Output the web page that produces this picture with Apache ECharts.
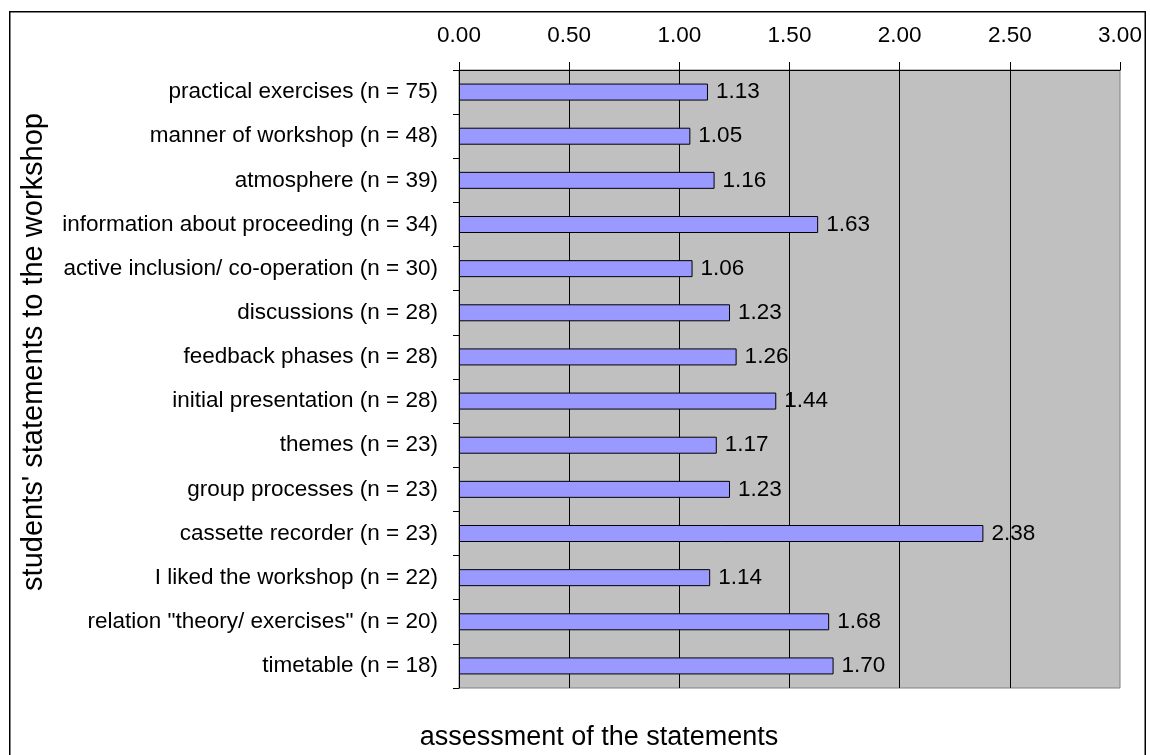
<!DOCTYPE html>
<html>
<head>
<meta charset="utf-8">
<title>Assessment of the statements</title>
<script src="https://cdn.jsdelivr.net/npm/echarts@6/dist/echarts.min.js"></script>
<style>
  html, body { margin: 0; padding: 0; background: #ffffff; }
  #chart { width: 1150px; height: 755px; }
</style>
</head>
<body>
<div id="chart"></div>
<script>
// Statements named by the students, with the number of mentions
const categories = [
  'practical exercises (n = 75)',
  'manner of workshop (n = 48)',
  'atmosphere (n = 39)',
  'information about proceeding (n = 34)',
  'active inclusion/ co-operation (n = 30)',
  'discussions (n = 28)',
  'feedback phases (n = 28)',
  'initial presentation (n = 28)',
  'themes (n = 23)',
  'group processes (n = 23)',
  'cassette recorder (n = 23)',
  'I liked the workshop (n = 22)',
  'relation "theory/ exercises" (n = 20)',
  'timetable (n = 18)'
];

// Mean assessment of each statement
const assessment = [1.13, 1.05, 1.16, 1.63, 1.06, 1.23, 1.26, 1.44, 1.17, 1.23, 2.38, 1.14, 1.68, 1.70];

// Value axis range and step
const axisMin = 0;
const axisMax = 3;
const axisStep = 0.5;

const xTitle = 'assessment of the statements';
const yTitle = "students' statements to the workshop";

const FONT = "'Liberation Sans', Arial, Helvetica, sans-serif";
const LABEL_SIZE = 22.5;

const chart = echarts.init(document.getElementById('chart'), null, { renderer: 'canvas' });

chart.setOption({
  animation: false,
  backgroundColor: '#ffffff',
  textStyle: { fontFamily: FONT },
  grid: {
    left: 459,
    top: 70,
    right: 30,
    bottom: 67,
    show: true,
    backgroundColor: '#c0c0c0',
    borderColor: '#808080',
    borderWidth: 1
  },
  xAxis: {
    type: 'value',
    position: 'top',
    min: axisMin,
    max: axisMax,
    interval: axisStep,
    axisLine: { show: true, lineStyle: { color: '#000000', width: 1 } },
    axisTick: { show: true, inside: false, length: 8, lineStyle: { color: '#000000', width: 1 } },
    axisLabel: {
      show: true,
      margin: 23,
      color: '#000000',
      fontFamily: FONT,
      fontSize: LABEL_SIZE,
      lineHeight: 22,
      formatter: v => v.toFixed(2)
    },
    splitLine: {
      show: true,
      showMinLine: false,
      showMaxLine: false,
      lineStyle: { color: '#000000', width: 1 }
    }
  },
  yAxis: {
    type: 'category',
    inverse: true,
    data: categories,
    boundaryGap: true,
    axisLine: { show: true, lineStyle: { color: '#000000', width: 1 } },
    axisTick: { show: true, inside: false, length: 6, alignWithLabel: false, lineStyle: { color: '#000000', width: 1 } },
    axisLabel: {
      show: true,
      interval: 0,
      margin: 21,
      color: '#000000',
      fontFamily: FONT,
      fontSize: LABEL_SIZE
    },
    splitLine: { show: false }
  },
  series: [{
    type: 'bar',
    data: assessment,
    barWidth: 17,
    itemStyle: {
      color: '#9999ff',
      borderColor: '#000000',
      borderWidth: 1
    },
    label: {
      show: true,
      position: 'right',
      distance: 8,
      color: '#000000',
      fontFamily: FONT,
      fontSize: LABEL_SIZE,
      formatter: p => p.value.toFixed(2)
    }
  }],
  graphic: [
    {
      type: 'rect',
      silent: true,
      z: 100,
      shape: { x: 9.75, y: 11.75, width: 1135.5, height: 800 },
      style: { fill: 'none', stroke: '#000000', lineWidth: 1.5 }
    },
    {
      type: 'text',
      silent: true,
      x: 599,
      y: 738,
      style: {
        text: xTitle,
        fill: '#000000',
        font: '27px ' + FONT,
        align: 'center',
        verticalAlign: 'middle'
      }
    },
    {
      type: 'text',
      silent: true,
      x: 34,
      y: 352,
      rotation: Math.PI / 2,
      style: {
        text: yTitle,
        fill: '#000000',
        font: '29px ' + FONT,
        align: 'center',
        verticalAlign: 'middle'
      }
    }
  ]
});
</script>
</body>
</html>
